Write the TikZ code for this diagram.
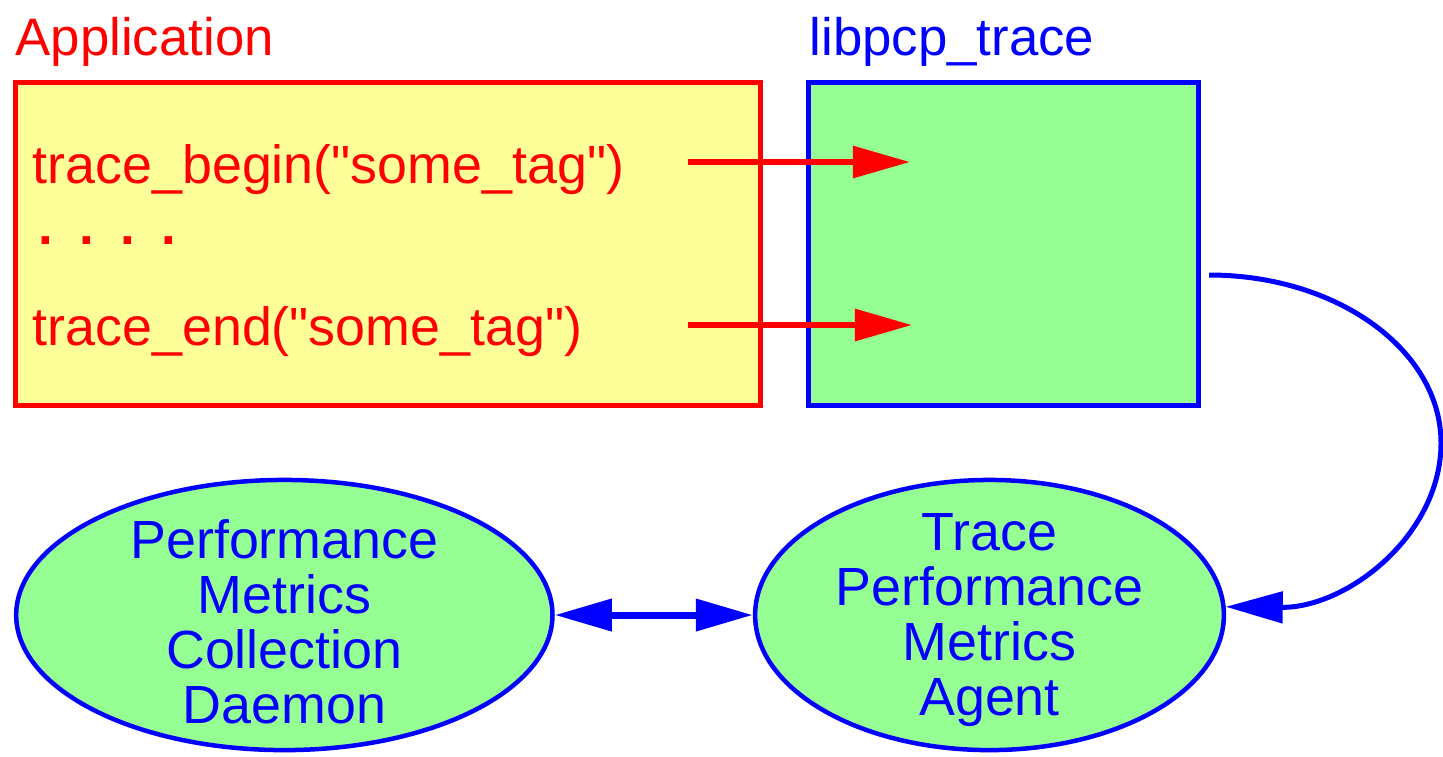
\documentclass[tikz,border=0pt]{standalone}
\usepackage{fontspec}
\setmainfont{Liberation Sans}
\definecolor{PcpRed}{HTML}{FF0000}
\definecolor{PcpBlue}{HTML}{0000FF}
\definecolor{PcpYellow}{HTML}{FFFF99}
\definecolor{PcpGreen}{HTML}{96FF94}
\usetikzlibrary{positioning,shapes.geometric,arrows.meta}

\begin{document}
\begin{tikzpicture}[x=0.01cm, y=-0.01cm,
    every node/.style={font=\fontsize{15}{18}\selectfont, inner sep=0pt},
    call/.style={PcpRed, line width=0.06cm, -{Triangle[length=5.7mm, width=3.1mm]}},
    code/.style={anchor=base west, text=PcpRed, font=\fontsize{15.3}{18}\selectfont},
    pmda/.style={draw=PcpBlue, fill=PcpGreen, line width=0.045cm, ellipse, minimum height=2.7cm},
    pmdatext/.style={text=PcpBlue, align=center, font=\fontsize{15.3}{15.6}\selectfont}]
    \useasboundingbox (0,0) rectangle (1443,756);
    % application and library boxes
    \node[draw=PcpRed, fill=PcpYellow, line width=0.055cm, minimum width=7.45cm, minimum height=3.23cm] (app) at (388,244) {};
    \node[draw=PcpBlue, fill=PcpGreen, line width=0.055cm, minimum width=3.9cm, minimum height=3.23cm, right=0.42cm of app] (lib) {};
    \node[anchor=base west, text=PcpRed] (applbl) at (15,55) {Application};
    \node[anchor=base west, text=PcpBlue] (liblbl) at (809,55) {libpcp\_trace};
    \node[code] (tbegin) at (32,183) {trace\_begin(\textquotedbl some\_tag\textquotedbl)};
    \node[code, font=\fontsize{15}{18}\selectfont\bfseries] (tdots) at (38,244) {.\hspace{.5em}.\hspace{.5em}.\hspace{.5em}.};
    \node[code] (tend) at (32,345) {trace\_end(\textquotedbl some\_tag\textquotedbl)};
    \coordinate (b0) at (688,162);
    \coordinate (b1) at (910,162);
    \coordinate (e0) at (688,325);
    \coordinate (e1) at (912,325);
    \draw[call] (b0) -- (b1);
    \draw[call] (e0) -- (e1);
    % daemon and agent
    \node[pmda, minimum width=4.685cm] (agent) at (989.5,615) {};
    \node[pmda, minimum width=5.36cm, left=1.98cm of agent] (pmcd) {};
    \node[pmdatext] (pmcdtxt) at ([yshift=-0.07cm]pmcd.center) {Performance\\Metrics\\Collection\\Daemon};
    \node[pmdatext] (agenttxt) at ([yshift=-0.05cm]agent.center) {Trace\\Performance\\Metrics\\Agent};
    \draw[PcpBlue, line width=0.05cm, -{Triangle[length=5.7mm, width=3.1mm]}] ([shift={(8,31)}]lib.east) .. controls (1337,275) and (1441,350) .. (1441,443) .. controls (1441,535) and (1347,608) .. (agent.2);
    \draw[PcpBlue, line width=0.07cm, {Triangle[length=5.7mm, width=3.1mm]}-{Triangle[length=5.7mm, width=3.1mm]}] (pmcd) -- (agent);
\end{tikzpicture}
\end{document}
